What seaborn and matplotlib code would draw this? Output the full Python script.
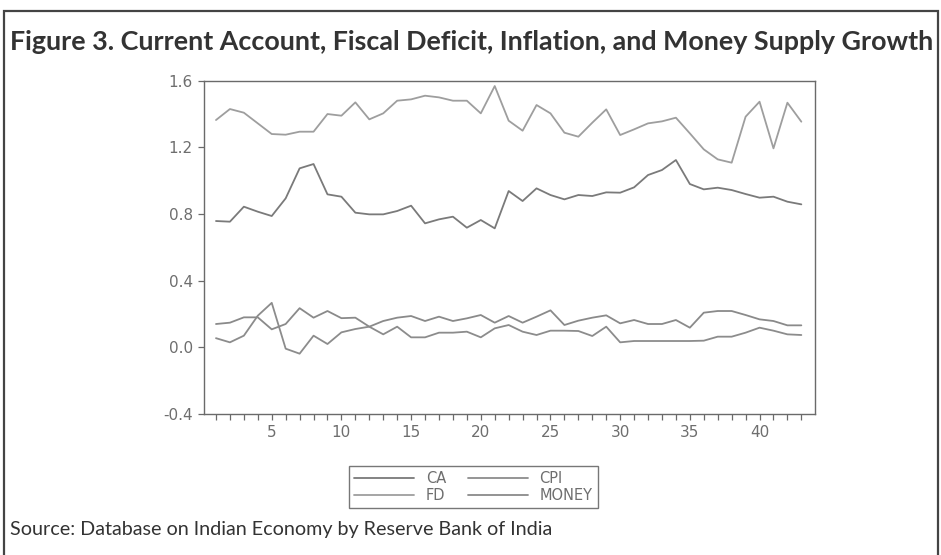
import numpy as np
import pandas as pd
import matplotlib
matplotlib.use("Agg")
import matplotlib.pyplot as plt
import seaborn as sns
from matplotlib.ticker import MultipleLocator, FuncFormatter
from matplotlib.patches import Rectangle

periods = list(range(1, 44))

FD = [1.364, 1.43, 1.408, 1.344, 1.28, 1.276, 1.294, 1.294, 1.40, 1.39,
      1.47, 1.368, 1.404, 1.48, 1.488, 1.51, 1.50, 1.48, 1.48, 1.404,
      1.568, 1.36, 1.30, 1.454, 1.404, 1.288, 1.264, 1.348, 1.428, 1.274,
      1.308, 1.344, 1.356, 1.378, 1.284, 1.188, 1.128, 1.108, 1.384, 1.474,
      1.194, 1.468, 1.354]

CA = [0.758, 0.754, 0.844, 0.814, 0.788, 0.894, 1.074, 1.10, 0.918, 0.904,
      0.808, 0.798, 0.798, 0.818, 0.85, 0.744, 0.768, 0.784, 0.718, 0.764,
      0.714, 0.938, 0.878, 0.954, 0.914, 0.888, 0.914, 0.908, 0.93, 0.928,
      0.96, 1.034, 1.064, 1.124, 0.98, 0.948, 0.958, 0.944, 0.92, 0.898,
      0.904, 0.874, 0.858]

MONEY = [0.14, 0.148, 0.18, 0.18, 0.108, 0.14, 0.235, 0.178, 0.218, 0.175,
         0.178, 0.124, 0.158, 0.178, 0.188, 0.158, 0.184, 0.158, 0.174, 0.194,
         0.148, 0.188, 0.148, 0.184, 0.222, 0.134, 0.16, 0.178, 0.192, 0.144,
         0.164, 0.14, 0.14, 0.164, 0.118, 0.208, 0.218, 0.218, 0.194, 0.168,
         0.158, 0.132, 0.132]

CPI = [0.055, 0.03, 0.07, 0.19, 0.267, -0.008, -0.038, 0.07, 0.02, 0.09,
       0.11, 0.124, 0.078, 0.124, 0.06, 0.06, 0.088, 0.088, 0.094, 0.06,
       0.114, 0.134, 0.094, 0.074, 0.10, 0.10, 0.098, 0.068, 0.124, 0.03,
       0.038, 0.038, 0.038, 0.038, 0.038, 0.04, 0.064, 0.064, 0.088, 0.118,
       0.10, 0.078, 0.074]

series_names = ["CA", "CPI", "FD", "MONEY"]
title_text = "Figure 3. Current Account, Fiscal Deficit, Inflation, and Money Supply Growth"
source_text = "Source: Database on Indian Economy by Reserve Bank of India"
y_ticks = [-0.4, 0.0, 0.4, 0.8, 1.2, 1.6]

df = pd.DataFrame({"period": periods * 4,
                   "value": CA + CPI + FD + MONEY,
                   "series": ["CA"] * 43 + ["CPI"] * 43 + ["FD"] * 43 + ["MONEY"] * 43})

palette = {"CA": "#7a7a7a", "CPI": "#8c8c8c", "FD": "#9e9e9e", "MONEY": "#8a8a8a"}

sns.set_style("white")
plt.rcParams["font.family"] = ["DejaVu Sans"]

fig = plt.figure(figsize=(9.41, 5.55), dpi=100)
ax = fig.add_axes([204 / 941, 1 - 414 / 555, (815 - 204) / 941, (414 - 80.7) / 555])

sns.lineplot(data=df, x="period", y="value", hue="series", palette=palette,
             hue_order=series_names, linewidth=1.3, ax=ax, legend=False)

ax.set_xlim(0.14, 43.98)
ax.set_ylim(-0.4, 1.6)
ax.set_yticks(y_ticks)
ax.yaxis.set_major_formatter(FuncFormatter(lambda v, p: f"{v:.1f}"))
ax.xaxis.set_major_locator(MultipleLocator(1))
ax.xaxis.set_major_formatter(FuncFormatter(lambda v, p: f"{int(round(v))}" if int(round(v)) % 5 == 0 else ""))
ax.set_xlabel("")
ax.set_ylabel("")
for s in ax.spines.values():
    s.set_color("#6a6a6a")
    s.set_linewidth(1.0)
ax.tick_params(axis="both", which="both", bottom=True, left=True, top=False, right=False,
               direction="out", length=4, width=0.9, color="#6a6a6a",
               labelcolor="#6e6e6e", labelsize=11, pad=4)

handles = [plt.Line2D([], [], color=palette[n], lw=1.3) for n in series_names]
order = [0, 2, 1, 3]
leg = fig.legend([handles[i] for i in order], [series_names[i] for i in order],
                 ncol=2, loc="center", bbox_to_anchor=(473.5 / 941, 1 - 487 / 555),
                 frameon=True, fancybox=False, edgecolor="#555555", fontsize=10.5,
                 handlelength=4.1, handletextpad=0.8, columnspacing=1.5,
                 labelspacing=0.15, borderpad=0.35, labelcolor="#6e6e6e")
leg.get_frame().set_linewidth(1.0)

fig.text(10 / 941, 1 - 42 / 555, title_text, ha="left", va="center",
         fontsize=19.4, fontweight="bold", color="#333333", family=["Lato", "DejaVu Sans"])
fig.text(10 / 941, 1 - 530 / 555, source_text, ha="left", va="center",
         fontsize=14.2, color="#333333", family=["Lato", "DejaVu Sans"])

fig.patches.append(Rectangle((4 / 941, -0.01), (938 - 4) / 941, 1 - 11 / 555 + 0.01,
                             transform=fig.transFigure, fill=False,
                             edgecolor="#444444", linewidth=1.6))

fig.savefig("out.png", dpi=100)
